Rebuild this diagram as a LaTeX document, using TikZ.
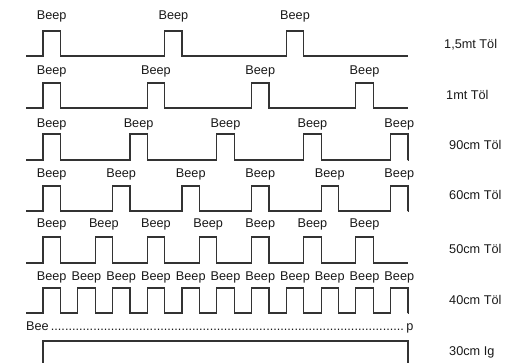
\documentclass[tikz,border=0pt]{standalone}
\usepackage{fontspec}
\setmainfont{Liberation Sans}
\begin{document}
\begin{tikzpicture}[x=1pt,y=-1pt,
  wave/.style={line width=1.2pt, draw=black!80, line join=miter},
  beep/.style={font=\fontsize{12.7}{14}\selectfont, inner sep=0pt, text=black!90},
  tag/.style={font=\fontsize{12.7}{14}\selectfont, inner sep=0pt, anchor=west, text=black!90}]
\useasboundingbox (0,0) rectangle (508,363);
\def\uu{17.381}
\foreach \r/\p/\n/\b/\t/\ly/\tx/\ty/\tg in {
  1/7/2/56/31/16/444/45/{1,5mt Töl},
  2/6/3/108/83/71/446/95/{1mt Töl},
  3/5/4/160/134/124/449/145/{90cm Töl},
  4/4/5/211/186/174/449/195/{60cm Töl},
  5/3/6/263/237/224/449/249/{50cm Töl},
  6/2/10/313/288/277/449/300/{40cm Töl}}{
  \draw[wave] (26,\b) foreach \k [evaluate=\k as \x using 43+\k*\p*\uu] in {0,...,\n} {
      -- (\x,\b) -- (\x,\t) -- (\x+\uu,\t) -- (\x+\uu,\b) } -- (408,\b);
  \foreach \k [evaluate=\k as \x using 43+\k*\p*\uu+\uu/2] in {0,...,\n}
    \node[beep] (b\r-\k) at (\x,\ly) {Beep};
  \node[tag] (t\r) at (\tx,\ty) {\tg};
}
\node[beep, anchor=west] (bee) at (26,327) {\hbox to 387pt{Bee\leaders\hbox{.}\hfill p}};
\draw[wave] (43,366) -- (43,341) -- (408,341) -- (408,366);
\node[tag] (t7) at (449,352) {30cm Ig};
\end{tikzpicture}
\end{document}
